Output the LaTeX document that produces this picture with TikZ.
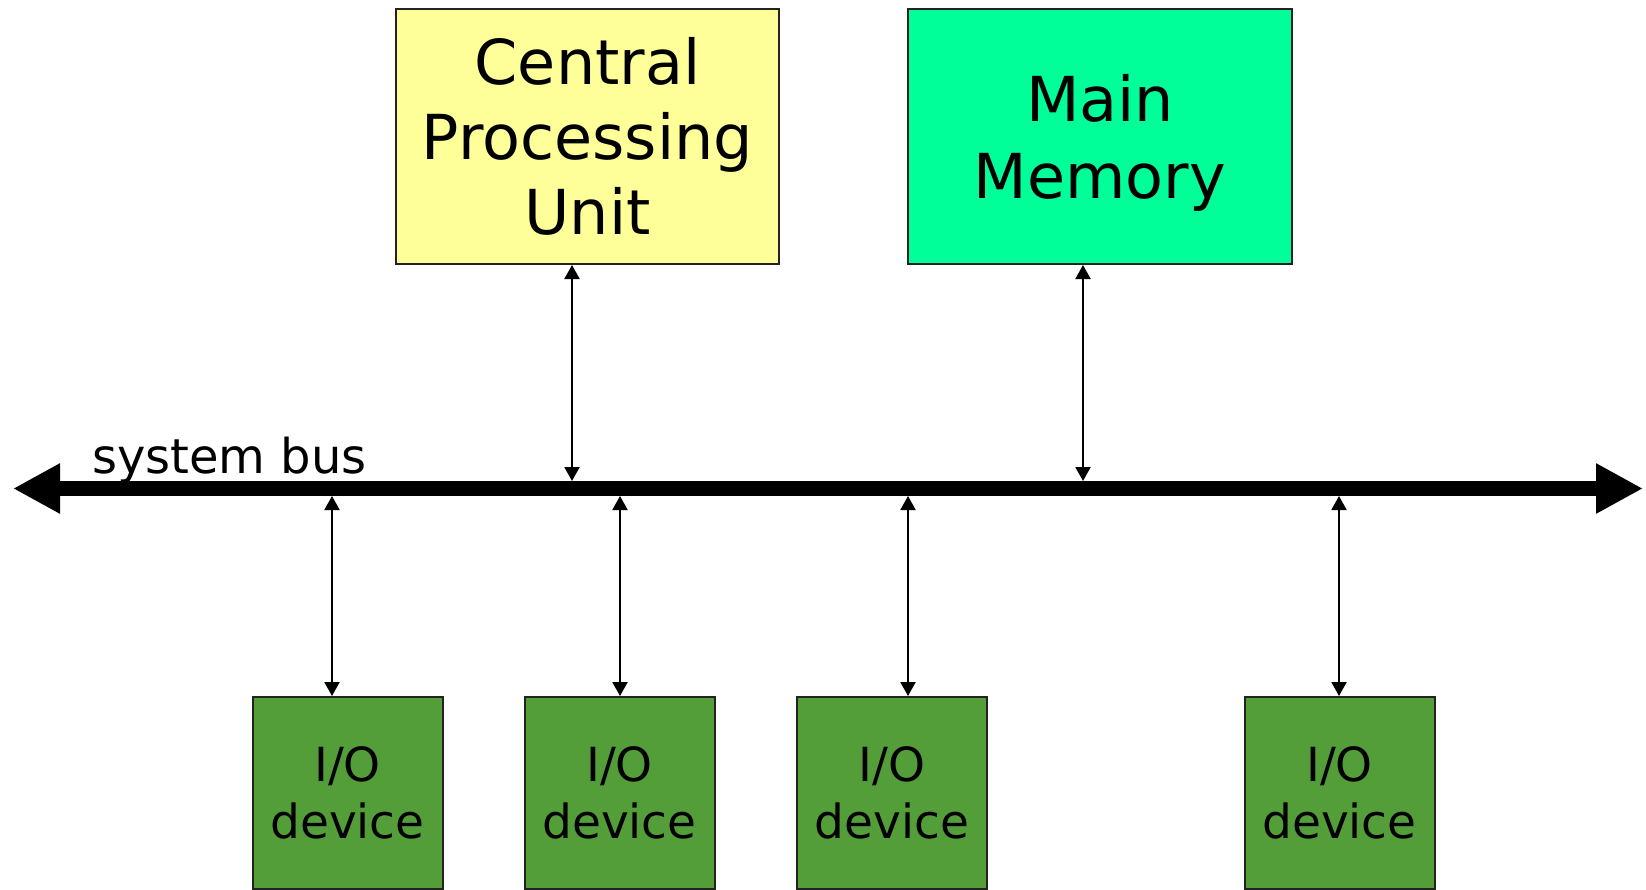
\documentclass[tikz,border=0pt]{standalone}
\usepackage{fontspec}
\setmainfont{DejaVu Sans}
\usetikzlibrary{arrows.meta}
\definecolor{cpuyellow}{HTML}{FFFF99}
\definecolor{memgreen}{HTML}{00FF99}
\definecolor{iogreen}{HTML}{549E39}
\definecolor{edgegray}{HTML}{222222}
\tikzset{
  box/.style={draw=edgegray, line width=2pt, rectangle, inner sep=0pt, align=center},
  cpubox/.style={box, fill=cpuyellow, minimum width=383pt, minimum height=255pt, font=\fontsize{62}{75}\selectfont},
  membox/.style={box, fill=memgreen, minimum width=384pt, minimum height=255pt, font=\fontsize{62}{77}\selectfont},
  iobox/.style={box, fill=iogreen, minimum width=190pt, minimum height=192pt, font=\fontsize{47}{57}\selectfont},
  busline/.style={line width=15pt, {Triangle[length=47pt,width=47pt]}-{Triangle[length=47pt,width=47pt]}},
  conn/.style={line width=2pt, {Triangle[length=14pt,width=15pt]}-{Triangle[length=14pt,width=15pt]}}
}
\begin{document}
\begin{tikzpicture}[x=1pt,y=-1pt]
\useasboundingbox (0,0) rectangle (1646,889);
% boxes
\node[cpubox] (cpu) at (587.5,136.5) {Central\\Processing\\Unit};
\node[membox, text depth=0pt] (mem) at (1100,136.5) {Main\\Memory};
\node[iobox] (io1) at (347.5,793) {I/O\\device};
\node[iobox] (io2) at (619.5,793) {I/O\\device};
\node[iobox] (io3) at (892,793) {I/O\\device};
\node[iobox] (io4) at (1339.5,793) {I/O\\device};
% bus
\coordinate (busL) at (13,488.5);
\coordinate (busR) at (1643,488.5);
\draw[busline] (busL) -- (busR);
\node[anchor=base west, inner sep=0pt, font=\fontsize{48}{56}\selectfont] (buslabel) at (92,473) {system bus};
% bus taps
\coordinate (tcpu) at (572,481);
\coordinate (tmem) at (1083,481);
\coordinate (t1) at (332,496);
\coordinate (t2) at (620,496);
\coordinate (t3) at (908,496);
\coordinate (t4) at (1339,496);
\draw[conn] (cpu.south -| tcpu) -- (tcpu);
\draw[conn] (mem.south -| tmem) -- (tmem);
\draw[conn] (t1) -- (t1 |- io1.north);
\draw[conn] (t2) -- (t2 |- io2.north);
\draw[conn] (t3) -- (t3 |- io3.north);
\draw[conn] (t4) -- (t4 |- io4.north);
\end{tikzpicture}
\end{document}
